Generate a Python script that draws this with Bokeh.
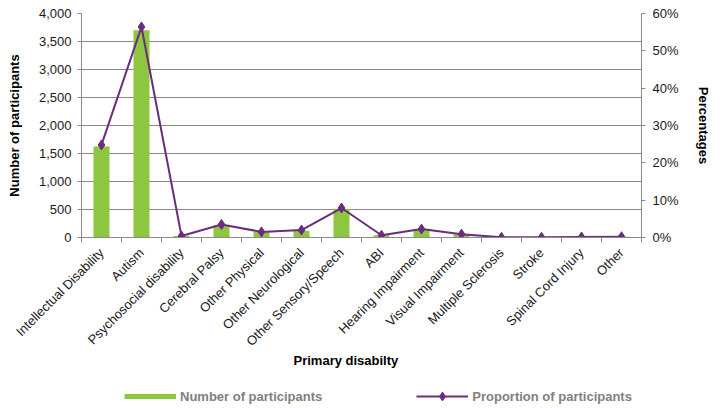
import numpy as np
from bokeh.plotting import figure
from bokeh.layouts import column
from bokeh.models import (Range1d, LinearAxis, FixedTicker, NumeralTickFormatter, Title,
                          PrintfTickFormatter, Legend, LegendItem, ColumnDataSource)
from bokeh.embed import file_html
from bokeh.resources import INLINE

categories = ["Intellectual Disability", "Autism", "Psychosocial disability", "Cerebral Palsy",
              "Other Physical", "Other Neurological", "Other Sensory/Speech", "ABI",
              "Hearing Impairment", "Visual Impairment", "Multiple Sclerosis", "Stroke",
              "Spinal Cord Injury", "Other"]
participants = [1625, 3700, 26, 220, 100, 120, 515, 39, 147, 59, 3, 3, 10, 13]
proportion_pct = [24.8, 56.4, 0.4, 3.5, 1.5, 2.0, 7.9, 0.6, 2.25, 0.9, 0.05, 0.05, 0.15, 0.2]
left_ticks = [0, 500, 1000, 1500, 2000, 2500, 3000, 3500, 4000]
right_ticks = [0, 10, 20, 30, 40, 50, 60]
series_names = ["Number of participants", "Proportion of participants"]

GREEN = "#8DC63F"
PURPLE = "#6B2C7E"
GRID = "#8A8A8A"
FONT = "Liberation Sans"

n = len(categories)
centers = [i + 0.5 for i in range(n)]
bounds = list(range(n + 1))

src = ColumnDataSource(dict(x=centers, cnt=participants, pct=proportion_pct))

p = figure(width=720, height=384, output_backend="svg", toolbar_location=None,
           x_range=Range1d(0, n), y_range=Range1d(0, 4000),
           min_border_left=81, min_border_right=79, min_border_top=13, min_border_bottom=147)
p.outline_line_color = None
p.background_fill_color = "white"
p.extra_y_ranges = {"pct": Range1d(0, 60)}

bars = p.vbar(x="x", top="cnt", width=0.4, source=src, fill_color=GREEN, line_color=None)
ln = p.line(x="x", y="pct", source=src, y_range_name="pct", line_color=PURPLE, line_width=2)
mk = p.scatter(x="x", y="pct", source=src, y_range_name="pct", marker="diamond", size=10,
               fill_color=PURPLE, line_color=PURPLE)

# x axis
xa = p.xaxis[0]
xa.ticker = FixedTicker(ticks=centers, minor_ticks=bounds)
xa.major_label_overrides = {c: lab for c, lab in zip(centers, categories)}
xa.major_label_orientation = np.pi / 4
xa.major_tick_out = 0
xa.major_tick_in = 0
xa.minor_tick_out = 5
xa.minor_tick_in = 0
xa.axis_line_color = GRID
xa.minor_tick_line_color = GRID
xa.major_label_text_font = FONT
xa.major_label_text_font_size = "13px"
xa.major_label_text_color = "#1a1a1a"
xa.major_label_standoff = 8

xtitle = Title(text="Primary disabilty", align="left", offset=212, standoff=-14,
               text_font=FONT, text_font_style="bold", text_font_size="13px",
               text_color="black")
p.add_layout(xtitle, "below")

# left axis
ya = p.yaxis[0]
ya.ticker = FixedTicker(ticks=left_ticks)
ya.formatter = NumeralTickFormatter(format="0,0")
ya.major_tick_out = 4
ya.major_tick_in = 0
ya.minor_tick_line_color = None
ya.axis_line_color = GRID
ya.major_tick_line_color = GRID
ya.major_label_text_font = FONT
ya.major_label_text_font_size = "13px"
ya.major_label_text_color = "#1a1a1a"
ya.major_label_standoff = 6
ya.axis_label = "Number of participants"
ya.axis_label_text_font = FONT
ya.axis_label_text_font_style = "bold"
ya.axis_label_text_font_size = "13px"
ya.axis_label_text_color = "black"
ya.axis_label_standoff = 14

# right axis
ra = LinearAxis(y_range_name="pct", ticker=FixedTicker(ticks=right_ticks),
                formatter=PrintfTickFormatter(format="%d%%"))
ra.major_tick_out = 4
ra.major_tick_in = 0
ra.minor_tick_line_color = None
ra.axis_line_color = GRID
ra.major_tick_line_color = GRID
ra.major_label_text_font = FONT
ra.major_label_text_font_size = "13px"
ra.major_label_text_color = "#1a1a1a"
ra.major_label_standoff = 7
ra.axis_label = "Percentages"
ra.axis_label_text_font = FONT
ra.axis_label_text_font_style = "bold"
ra.axis_label_text_font_size = "13px"
ra.axis_label_text_color = "black"
ra.axis_label_standoff = 14
p.add_layout(ra, "right")

p.xgrid.grid_line_color = None
p.ygrid.ticker = FixedTicker(ticks=left_ticks)
p.ygrid.grid_line_color = GRID
p.ygrid.grid_line_width = 1

# legend strip below the chart (swatches use the same data, kept out of view)
lg = figure(width=720, height=24, output_backend="svg", toolbar_location=None,
            x_range=Range1d(0, n), y_range=Range1d(-2, -1), min_border=0)
lg.outline_line_color = None
lg.axis.visible = False
lg.grid.visible = False
sw1 = lg.line(x="x", y="cnt", source=src, line_color=GREEN, line_width=5)
sw2 = lg.line(x="x", y="pct", source=src, line_color=PURPLE, line_width=2)
sw3 = lg.scatter(x="x", y="pct", source=src, marker="diamond", size=10,
                 fill_color=PURPLE, line_color=PURPLE)

leg = Legend(items=[LegendItem(label=series_names[0], renderers=[sw1]),
                    LegendItem(label=series_names[1], renderers=[sw2, sw3])],
             location=(43, 1), orientation="horizontal", glyph_width=52, glyph_height=22,
             label_height=22, label_standoff=4, spacing=94, padding=0, margin=0,
             border_line_color=None, background_fill_alpha=0,
             label_text_font=FONT, label_text_font_style="bold",
             label_text_font_size="13px", label_text_color="#808080")
lg.add_layout(leg, "center")

layout = column(p, lg, spacing=0)
open("out.html", "w").write(file_html(layout, INLINE))
